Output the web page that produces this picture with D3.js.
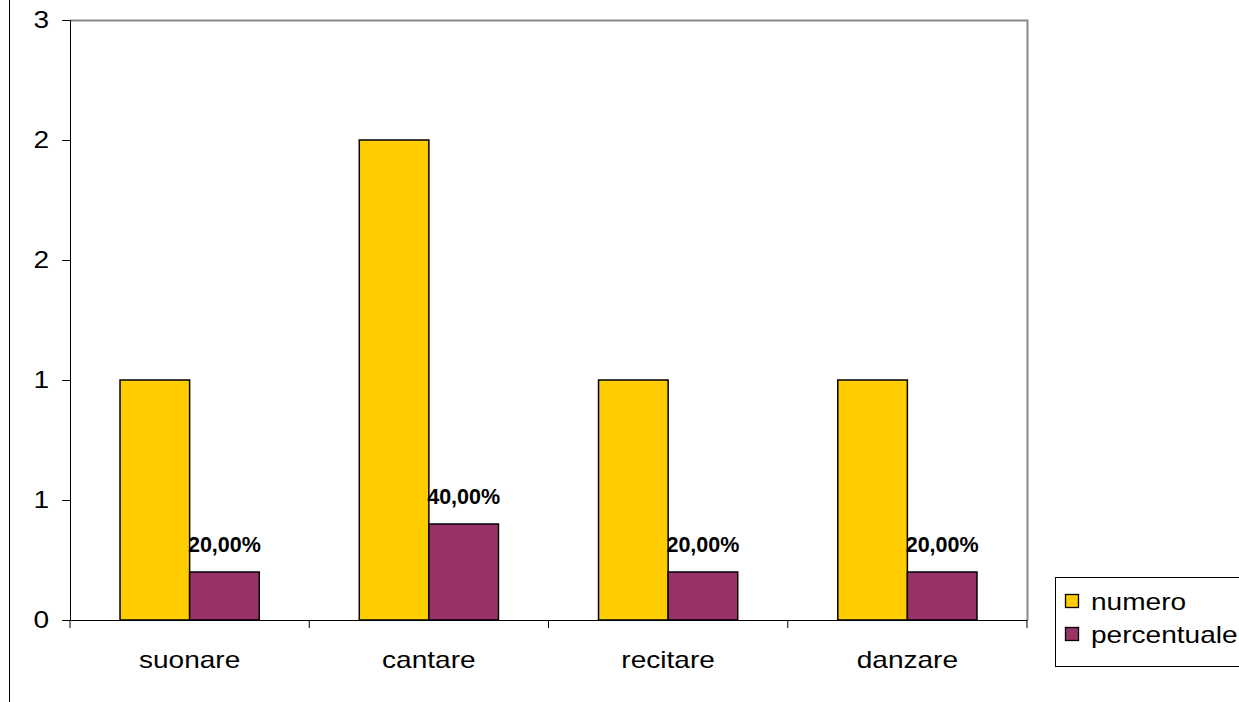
<!DOCTYPE html>
<html><head><meta charset="utf-8">
<script src="https://cdn.jsdelivr.net/npm/d3@7"></script>
<style>body{margin:0;background:#fff}svg{display:block;font-family:"Liberation Sans",Arial,sans-serif}</style>
</head><body>
<script>
const categories = ["suonare","cantare","recitare","danzare"];
const numero = [1,2,1,1];
const percentuale = [0.2,0.4,0.2,0.2];
const percentLabels = ["20,00%","40,00%","20,00%","20,00%"];
const seriesNames = ["numero","percentuale"];
const colors = ["#FFCC00","#993366"];
const yTicks = [0,0.5,1,1.5,2,2.5];
const yTickLabels = ["0","1","1","2","2","3"];

const W=1239,H=702;
const svg=d3.select("body").append("svg").attr("width",W).attr("height",H);
const m={l:70,t:20,r:1027,b:620};
const x=d3.scaleBand().domain(categories).range([m.l,m.r]).paddingInner(0).paddingOuter(0);
const y=d3.scaleLinear().domain([0,2.5]).range([m.b,m.t]);
const bw=69.6;
const FS=23, SX=1.22;

function stretchText(parent,tx,ty,str,anchor){
  return parent.append("text").attr("transform",`translate(${tx},${ty}) scale(${SX},1)`)
    .attr("text-anchor",anchor).attr("font-size",FS).attr("fill","#000").text(str);
}

// outer left border line
svg.append("line").attr("x1",9.5).attr("x2",9.5).attr("y1",0).attr("y2",H).attr("stroke","#000");

// plot border grey
svg.append("path").attr("d",`M${m.l},${m.t+0.5}H${m.r+0.5}V${m.b}`).attr("fill","none").attr("stroke","#888").attr("stroke-width",2);

const data=categories.map((c,i)=>({c,v:[numero[i],percentuale[i]],lab:percentLabels[i]}));
const g=svg.append("g");
data.forEach(d=>{
  const cx=x(d.c)+x.bandwidth()/2;
  d.v.forEach((v,j)=>{
    const x0=cx-bw+j*bw;
    g.append("rect").attr("x",x0).attr("y",y(v)).attr("width",bw).attr("height",y(0)-y(v))
     .attr("fill",colors[j]).attr("stroke","#000").attr("stroke-width",1.5);
  });
  g.append("text").attr("x",cx+bw/2).attr("y",y(d.v[1])-20).attr("text-anchor","middle")
   .attr("font-size",21.5).attr("font-weight","bold").text(d.lab);
});

// y axis
const ya=svg.append("g").attr("transform",`translate(${m.l},0)`)
 .call(d3.axisLeft(y).tickValues(yTicks).tickFormat("").tickSizeOuter(0).tickSize(8));
ya.selectAll("path,line").attr("stroke","#000");
ya.selectAll("text").remove();
yTicks.forEach((t,i)=>stretchText(svg,49,y(t)+8,yTickLabels[i],"end"));

// x axis
const xa=svg.append("g").attr("transform",`translate(0,${m.b})`)
 .call(d3.axisBottom(x).tickSize(0).tickFormat(""));
xa.select(".domain").attr("stroke","#000");
xa.selectAll("text").remove();
categories.forEach(c=>stretchText(svg,x(c)+x.bandwidth()/2,668,c,"middle"));
const bounds=categories.map(c=>x(c)).concat([m.r]);
svg.selectAll(".xt").data(bounds).join("line").attr("x1",d=>d).attr("x2",d=>d).attr("y1",m.b).attr("y2",m.b+8).attr("stroke","#000");

// legend
svg.append("rect").attr("x",1055.5).attr("y",577.5).attr("width",200).attr("height",89).attr("fill","#fff").attr("stroke","#000");
seriesNames.forEach((n,i)=>{
  const yy=601+i*33;
  svg.append("rect").attr("x",1065.5).attr("y",yy-6.5).attr("width",13).attr("height",13).attr("fill",colors[i]).attr("stroke","#000").attr("stroke-width",1.3);
  stretchText(svg,1091,yy+9,n,"start");
});
</script>
</body></html>
